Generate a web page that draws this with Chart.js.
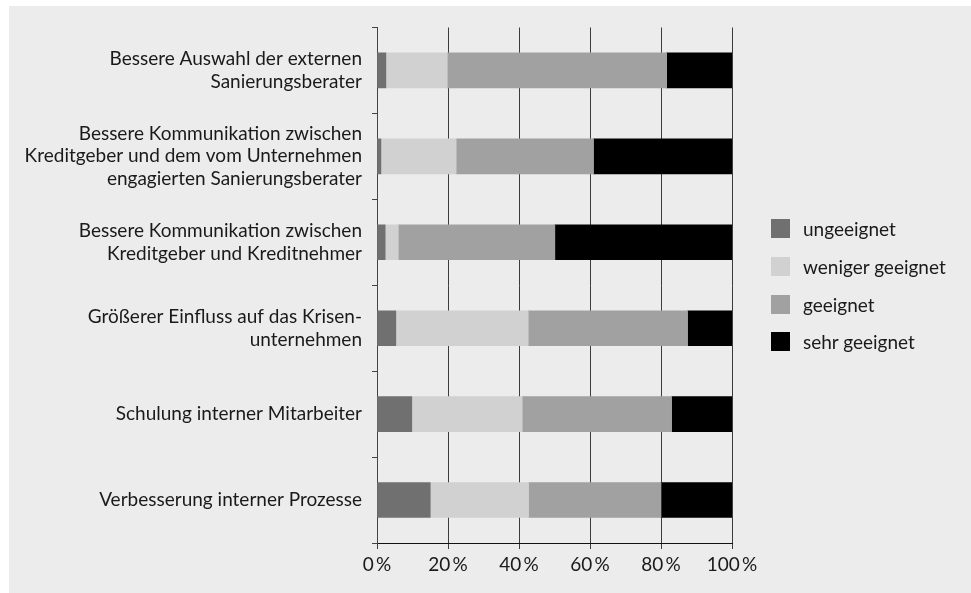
<!DOCTYPE html>
<html>
<head>
<meta charset="utf-8">
<script src="https://cdn.jsdelivr.net/npm/chart.js@4/dist/chart.umd.min.js"></script>
<style>
    body { margin: 0; background: #ffffff; }
    #panel { position: absolute; left: 9px; top: 6px; width: 962px; height: 587px; background: #ececec; }
    #chart { position: absolute; left: 0; top: 0; }
    #legend { position: absolute; left: 762px; top: 204px; margin: 0; padding: 0; list-style: none;
              font-family: Lato, sans-serif; font-size: 19px; color: #1a1a1a; }
    #legend li { height: 37.7px; display: flex; align-items: center; }
    #legend span.box { display: inline-block; width: 19px; height: 19px; margin-right: 13px; }
</style>
</head>
<body>
<div id="panel">
    <canvas id="chart" width="962" height="587"></canvas>
    <ul id="legend"></ul>
</div>
<script>
const categories = [
    ['Bessere Auswahl der externen', 'Sanierungsberater'],
    ['Bessere Kommunikation zwischen', 'Kreditgeber und dem vom Unternehmen', 'engagierten Sanierungsberater'],
    ['Bessere Kommunikation zwischen', 'Kreditgeber und Kreditnehmer'],
    ['Größerer Einfluss auf das Krisen-', 'unternehmen'],
    'Schulung interner Mitarbeiter',
    'Verbesserung interner Prozesse'
];
const seriesNames = ['ungeeignet', 'weniger geeignet', 'geeignet', 'sehr geeignet'];
const ungeeignet = [2.5, 1.1, 2.3, 5.3, 9.8, 15.0];
const wenigerGeeignet = [17.3, 21.2, 3.7, 37.3, 31.1, 27.7];
const geeignet = [61.8, 38.7, 44.1, 44.9, 42.1, 37.3];
const sehrGeeignet = [18.4, 39.0, 49.9, 12.5, 17.0, 20.0];
const xTicks = [0, 20, 40, 60, 80, 100];

const colors = ['#707070', '#d1d1d1', '#a1a1a1', '#000000'];
const font = { family: 'Lato, sans-serif', size: 19 };

const ctx = document.getElementById('chart').getContext('2d');
const chart = new Chart(ctx, {
    type: 'bar',
    data: {
        labels: categories,
        datasets: [ungeeignet, wenigerGeeignet, geeignet, sehrGeeignet].map((values, i) => ({
            label: seriesNames[i],
            data: values,
            backgroundColor: colors[i],
            borderWidth: 0,
            barThickness: 35
        }))
    },
    options: {
        indexAxis: 'y',
        responsive: false,
        animation: false,
        layout: { padding: { top: 18, right: 239, bottom: 0, left: 0 } },
        plugins: {
            legend: { display: false },
            tooltip: { enabled: false }
        },
        scales: {
            x: {
                stacked: true,
                min: 0,
                max: 100,
                afterBuildTicks: (scale) => { scale.ticks = xTicks.map(v => ({ value: v })); },
                afterFit: (scale) => { scale.height = 50; },
                border: { color: '#111111', width: 1 },
                grid: { color: '#3c3c3c', lineWidth: 1, tickLength: 6 },
                ticks: {
                    font: font,
                    color: '#1a1a1a',
                    padding: 4,
                    callback: (v) => v + '\u2009%'
                }
            },
            y: {
                stacked: true,
                afterFit: (scale) => { scale.width = 368; },
                border: { color: '#444444', width: 1 },
                grid: { drawOnChartArea: false, color: '#444444', tickLength: 5 },
                ticks: {
                    font: { family: font.family, size: 19, lineHeight: 1.21 },
                    color: '#1a1a1a',
                    padding: 10
                }
            }
        }
    }
});

// legend built from the datasets
const legendEl = document.getElementById('legend');
chart.data.datasets.forEach(ds => {
    const li = document.createElement('li');
    const box = document.createElement('span');
    box.className = 'box';
    box.style.background = ds.backgroundColor;
    li.appendChild(box);
    li.appendChild(document.createTextNode(ds.label));
    legendEl.appendChild(li);
});
</script>
</body>
</html>
